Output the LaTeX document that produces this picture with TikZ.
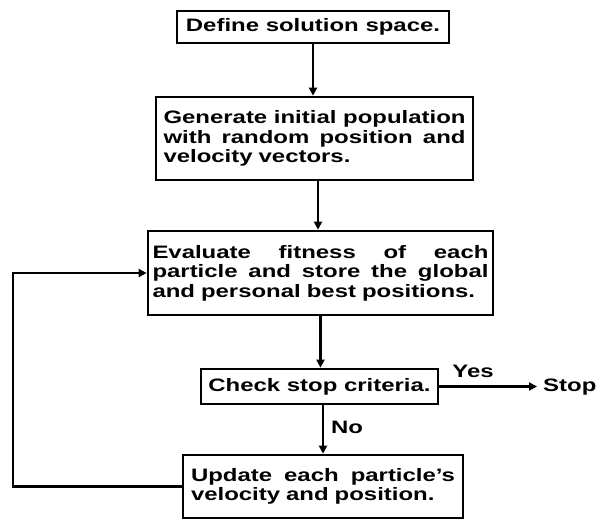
\documentclass[tikz,border=0pt]{standalone}
\usepackage{fontspec}
\setmainfont{Liberation Sans}[FakeStretch=1.33]
\usetikzlibrary{arrows.meta}
\newcommand{\jline}[2]{\leavevmode\hbox to #1{\spaceskip=.28em plus 1fil\relax #2}}
\begin{document}
\begin{tikzpicture}[x=1pt,y=-1pt,
  every node/.style={font=\fontsize{18}{19.5}\selectfont\bfseries},
  box/.style={draw, line width=2.7pt, inner sep=0pt, align=left},
  conn/.style={line width=2.4pt, -{Triangle[length=8pt,width=8pt]}},
  lbl/.style={inner sep=0pt}]
\useasboundingbox (0,0) rectangle (596,520);
\node[box, minimum width=272, minimum height=32] (b1) at (313,27) {Define solution space.};
\node[box, minimum width=317, minimum height=83, text width=302pt] (b2) at (314.5,138.5)
  {\jline{302pt}{Generate initial population}\\
   \jline{302pt}{with random position and}\\
   velocity vectors.};
\node[box, minimum width=345, minimum height=84, text width=336pt] (b3) at (320.5,273)
  {\jline{336pt}{Evaluate fitness of each}\\
   \jline{336pt}{particle and store the global}\\
   and personal best positions.};
\node[box, minimum width=237, minimum height=35] (b4) at (319.5,386.5) {Check stop criteria.};
\node[box, minimum width=280, minimum height=63, text width=264pt] (b5) at (323,486.5)
  {\jline{264pt}{Update each particle's}\\
   velocity and position.};
\node[lbl, anchor=west] (stop) at (543,387) {Stop};
\node[lbl] (yes) at (473,371) {Yes};
\node[lbl] (no) at (347,427) {No};
\coordinate (stoparr) at (537,386.5);
\coordinate (loopbl) at (13,486.5);
\coordinate (looptl) at (13,273);
\draw[conn] (b1.south) -- (b1.south |- b2.north);
\draw[conn] (b2.south -| 318,0) -- (b3.north -| 318,0);
\draw[conn] (b3.south) -- (b3.south |- b4.north);
\draw[conn] (b4.south -| 323,0) -- (b5.north);
\draw[conn] (b4.east) -- (stoparr);
\draw[conn] (b5.west) -- (loopbl) -- (looptl) -- (b3.west);
\end{tikzpicture}
\end{document}
